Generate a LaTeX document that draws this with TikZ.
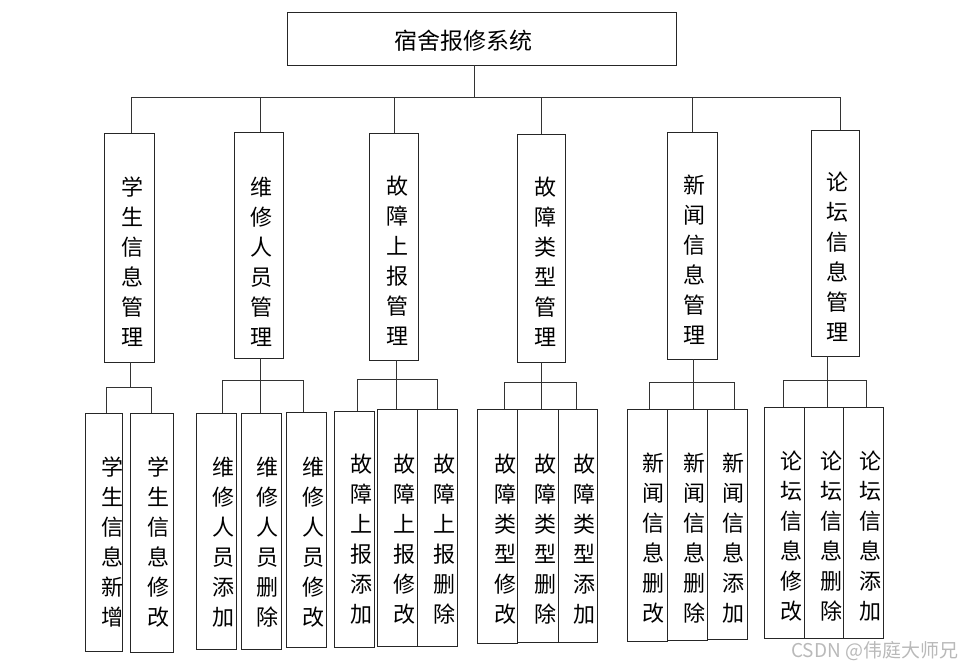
\documentclass[tikz,border=0pt]{standalone}
\usepackage{fontspec}
\newfontfamily\cjk{Noto Sans CJK SC}
\begin{document}
\begin{tikzpicture}[x=1pt,y=-1pt,
 box/.style={draw=black!85, line width=0.9pt, inner sep=0pt},
 vtxt/.style={font=\cjk\fontsize{22}{30}\selectfont, align=center, inner sep=0pt},
 conn/.style={draw=black!80, line width=0.9pt}]
\useasboundingbox (0,0) rectangle (978,670);
% top
\node[box, minimum width=389pt, minimum height=53pt] (top) at (481.5,38.5) {};
\node[font=\cjk\fontsize{23}{23}\selectfont, inner sep=0pt] (tt) at (463,41) {宿舍报修系统};
% level 1 boxes
\foreach \n/\x/\y/\w/\h in {b1/129/247.5/50/229, b2/258.5/245/49/226, b3/393.5/246.5/49/227,
  b4/541/248/48/228, b5/692/245.5/50/227, b6/835/243/48/226}
  {\node[box, minimum width=\w pt, minimum height=\h pt] (\n) at (\x,\y) {};}
\node[vtxt] (tb1) at (132,261.5) {学\\生\\信\\息\\管\\理};
\node[vtxt] (tb2) at (261,262) {维\\修\\人\\员\\管\\理};
\node[vtxt] (tb3) at (397,261) {故\\障\\上\\报\\管\\理};
\node[vtxt] (tb4) at (545,261.5) {故\\障\\类\\型\\管\\理};
\node[vtxt] (tb5) at (694,260) {新\\闻\\信\\息\\管\\理};
\node[vtxt] (tb6) at (837,257) {论\\坛\\信\\息\\管\\理};
% level 2 boxes
\foreach \n/\x/\y/\w/\h in {c1a/103.5/532/37/238, c1b/151.5/532.5/43/239,
  c2a/216/531/40/236, c2b/261/531/40/236, c2c/306/529.5/40/235,
  c3a/354/529/40/236, c3b/397/527.5/40/237, c3c/437/527.5/40/237,
  c4a/497/526/40/234, c4b/537.5/525.5/41/233, c4c/577.5/525.5/39/233,
  c5a/647/525/40/232, c5b/687/524.5/40/231, c5c/727/524/40/230,
  c6a/784/522.5/40/231, c6b/823.5/522.5/39/231, c6c/863/522.5/40/231}
  {\node[box, minimum width=\w pt, minimum height=\h pt] (\n) at (\x,\y) {};}
\node[vtxt] (tc1a) at (112,542) {学\\生\\信\\息\\新\\增};
\node[vtxt] (tc1b) at (158,542) {学\\生\\信\\息\\修\\改};
\node[vtxt] (tc2a) at (223,542) {维\\修\\人\\员\\添\\加};
\node[vtxt] (tc2b) at (267,542) {维\\修\\人\\员\\删\\除};
\node[vtxt] (tc2c) at (313,542) {维\\修\\人\\员\\修\\改};
\node[vtxt] (tc3a) at (361,539) {故\\障\\上\\报\\添\\加};
\node[vtxt] (tc3b) at (404,539) {故\\障\\上\\报\\修\\改};
\node[vtxt] (tc3c) at (444,539) {故\\障\\上\\报\\删\\除};
\node[vtxt] (tc4a) at (505,539) {故\\障\\类\\型\\修\\改};
\node[vtxt] (tc4b) at (545,539) {故\\障\\类\\型\\删\\除};
\node[vtxt] (tc4c) at (584,539) {故\\障\\类\\型\\添\\加};
\node[vtxt] (tc5a) at (653,538) {新\\闻\\信\\息\\删\\改};
\node[vtxt] (tc5b) at (694,538) {新\\闻\\信\\息\\删\\除};
\node[vtxt] (tc5c) at (733,538) {新\\闻\\信\\息\\添\\加};
\node[vtxt] (tc6a) at (791,536) {论\\坛\\信\\息\\修\\改};
\node[vtxt] (tc6b) at (831,536) {论\\坛\\信\\息\\删\\除};
\node[vtxt] (tc6c) at (870,536) {论\\坛\\信\\息\\添\\加};
% level 1 connectors
\coordinate (t0) at (474,97);
\coordinate (L1) at (131,97);
\coordinate (L6) at (840,97);
\draw[conn] (top.south -| t0) -- (t0);
\draw[conn] (L1) -- (L6);
\foreach \x/\n in {131/b1, 260/b2, 394/b3, 541/b4, 692/b5, 840/b6}
  {\coordinate (k) at (\x,97); \draw[conn] (k) -- (k |- \n.north);}
% level 2 connectors
\foreach \p/\y/\n/\l/\r in {130/387/b1/106/151, 260/380/b2/222/303, 396/379/b3/357/437,
  541/382/b4/504/576, 693/382/b5/649/734, 827/380/b6/783/866}
  {\coordinate (pp) at (\p,\y); \coordinate (ll) at (\l,\y); \coordinate (rr) at (\r,\y);
   \draw[conn] (pp |- \n.south) -- (pp);
   \draw[conn] (ll) -- (rr);}
\foreach \x/\y/\c in {106/387/c1a, 151/387/c1b,
  222/380/c2a, 260/380/c2b, 303/380/c2c,
  357/379/c3a, 396/379/c3b, 437/379/c3c,
  504/382/c4a, 541/382/c4b, 576/382/c4c,
  649/382/c5a, 693/382/c5b, 734/382/c5c,
  783/380/c6a, 827/380/c6b, 866/380/c6c}
  {\coordinate (q) at (\x,\y); \draw[conn] (q) -- (q |- \c.north);}
% watermark
\node[font=\cjk\fontsize{19}{19}\selectfont, text=gray!55, anchor=west, inner sep=0pt] (wm) at (791,651) {CSDN @伟庭大师兄};
\end{tikzpicture}
\end{document}
